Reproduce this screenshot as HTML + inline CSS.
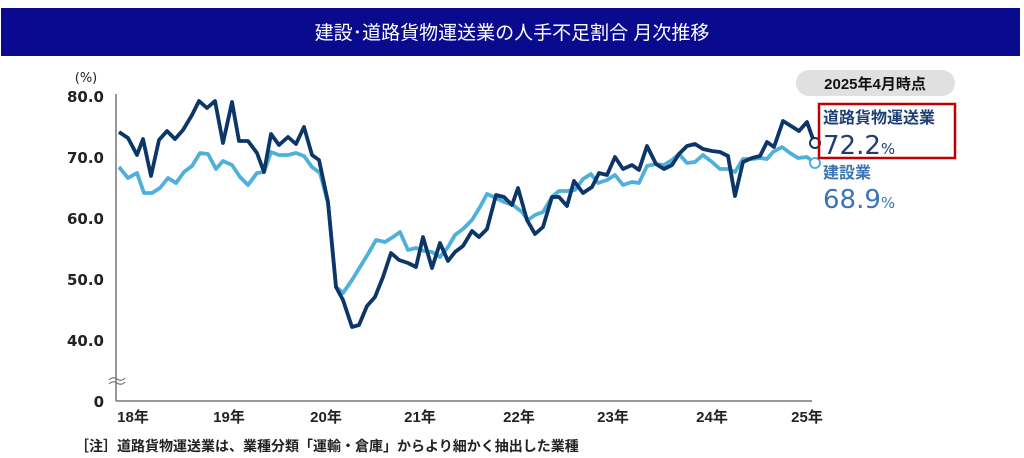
<!DOCTYPE html>
<html><head><meta charset="utf-8"><style>
body{margin:0;width:1024px;height:458px;background:#fff;overflow:hidden;font-family:"Liberation Sans","Noto Sans CJK JP",sans-serif}
</style></head><body>
<svg width="1024" height="458" xmlns="http://www.w3.org/2000/svg" style="position:absolute;left:0;top:0;font-family:'Liberation Sans','Noto Sans CJK JP',sans-serif">
<rect x="1" y="8" width="1019" height="48" fill="#0a0a8e"/>
<text x="512" y="39" font-size="19" fill="#fff" text-anchor="middle">建設･道路貨物運送業の人手不足割合 月次推移</text>
<text x="86" y="82" font-size="13" fill="#222" text-anchor="middle" font-family="DejaVu Sans">(%)</text>
<g font-size="15" fill="#222" text-anchor="end" font-family="DejaVu Sans" font-weight="bold">
<text x="104" y="102">80.0</text><text x="104" y="163">70.0</text><text x="104" y="224">60.0</text><text x="104" y="285">50.0</text><text x="104" y="346">40.0</text><text x="104" y="407">0</text>
</g>
<line x1="116" y1="94" x2="116" y2="401" stroke="#777" stroke-width="1.5"/>
<line x1="116" y1="401" x2="812" y2="401" stroke="#777" stroke-width="1.5"/>
<path d="M109 384 q4 -4 8 -1 q4 3 8 -1 M109 380 q4 -4 8 -1 q4 3 8 -1" stroke="#777" fill="none" stroke-width="1.2"/>
<g font-size="15" fill="#222" font-weight="bold" text-anchor="middle">
<text x="133" y="422">18年</text><text x="229" y="422">19年</text><text x="326" y="422">20年</text><text x="420" y="422">21年</text><text x="519" y="422">22年</text><text x="613" y="422">23年</text><text x="712" y="422">24年</text><text x="807" y="422">25年</text>
</g>
<text x="75" y="451" font-size="14" fill="#222" font-weight="bold">［注］道路貨物運送業は、業種分類「運輸・倉庫」からより細かく抽出した業種</text>
<polyline fill="none" stroke="#4fb0dc" stroke-width="3.8" stroke-linejoin="round" points="119,167 128,178 137,173 144,193 152,193 160,188 168,178 176,183 184,172 192,166 200,153 208,154 216,169 223,161 232,165 240,177 248,185 257,173 264,172 271,152 279,155 288,155 296,153 304,156 312,167 320,173 328,203 336,287 343,293 352,280 360,267 368,254 376,240 385,242 393,237 400,232 408,250 416,248 424,251 432,252 440,257 448,247 455,235 463,229 472,220 480,207 487,194 496,198 504,202 513,205 522,212 528,220 535,215 543,212 552,197 559,191 567,191 575,190 583,179 591,174 598,183 607,180 615,175 623,185 632,182 639,183 647,166 656,164 664,165 672,160 679,154 687,163 695,162 703,155 712,162 720,169 728,169 735,172 743,159 752,159 760,158 767,159 773,152 782,147 790,153 798,158 807,157 815,163"/>
<polyline fill="none" stroke="#0d3668" stroke-width="3.8" stroke-linejoin="round" points="119,132 128,138 137,155 143,139 151,176 159,140 167,131 175,139 183,130 192,115 199,101 207,108 215,101 223,143 232,102 239,141 248,141 257,153 264,172 271,134 279,145 288,137 296,144 304,127 312,155 319,160 328,202 336,287 343,300 352,327 359,325 367,306 375,297 383,277 391,253 399,260 408,263 416,267 423,237 432,268 440,243 448,261 455,252 463,246 472,231 479,237 487,229 496,195 504,197 512,205 518,188 527,220 535,234 543,227 552,197 559,197 567,206 574,181 583,193 592,187 599,173 607,175 615,157 623,169 632,165 639,170 647,146 656,164 664,169 672,165 679,154 687,146 695,144 703,149 712,151 720,152 728,156 735,196 743,162 752,158 760,156 767,142 774,147 783,121 791,126 799,131 807,122 814,142"/>
<circle cx="815" cy="143" r="5" fill="#fff" stroke="#0d3668" stroke-width="2"/>
<circle cx="815" cy="163" r="5" fill="#fff" stroke="#4fb0dc" stroke-width="2"/>
<rect x="796" y="70" width="159" height="26" rx="13" fill="#e0e0e0"/>
<text x="875" y="89" font-size="15" font-weight="bold" fill="#111" text-anchor="middle">2025年4月時点</text>
<rect x="819" y="104" width="136" height="54" fill="none" stroke="#c00000" stroke-width="2.5"/>
<text x="823" y="123" font-size="16" font-weight="bold" fill="#1f3f74">道路貨物運送業</text>
<text x="823" y="154" font-size="26" fill="#1f3f74" font-family="DejaVu Sans">72.2<tspan font-size="15">%</tspan></text>
<text x="823" y="178" font-size="16" font-weight="bold" fill="#3b75b3">建設業</text>
<text x="823" y="208" font-size="26" fill="#3b75b3" font-family="DejaVu Sans">68.9<tspan font-size="15">%</tspan></text>
</svg>
</body></html>
